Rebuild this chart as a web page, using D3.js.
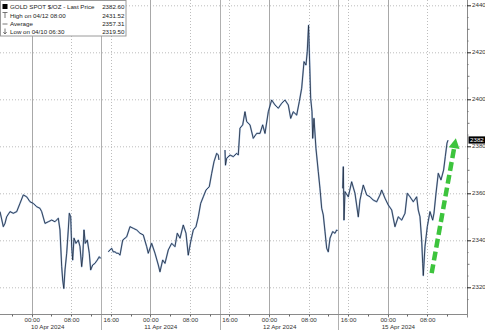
<!DOCTYPE html>
<html><head><meta charset="utf-8">
<script src="https://cdn.jsdelivr.net/npm/d3@7"></script>
<style>html,body{margin:0;padding:0;background:#fff;}svg{display:block;font-family:"Liberation Sans",Arial,sans-serif;}</style>
</head><body>
<div id="chart"></div>
<script>
// time in trading hours since 10 Apr 2024 00:00 (weekend collapsed), price in $/oz; null = session gap
const times = [-6.41,-5.74,-5.40,-5.06,-4.39,-3.72,-3.03,-2.37,-1.70,-1.01,-0.34,0.32,1.01,1.68,2.02,2.69,3.36,4.05,4.71,5.38,5.72,6.07,6.27,6.5,6.74,7.08,7.40,7.61,7.89,8.09,8.29,8.56,8.96,9.43,9.77,10.11,10.32,10.58,10.84,11.25,11.65,11.93,12.34,12.80,13.27,13.67,13.96,14.5,
15.49,15.84,16.18,16.50,16.85,17.19,17.52,17.86,18.41,19.22,19.88,20.55,21.24,21.91,22.57,23.26,23.58,24.27,24.94,25.61,25.95,26.50,26.96,27.63,28.32,28.98,29.45,30.00,30.66,31.21,31.67,32.16,32.69,33.23,33.70,34.18,34.71,35.26,35.92,36.41,36.87,37.42,37.74,37.88,38.5,
39.10,39.2,39.44,40.11,40.78,41.46,41.79,42.13,42.68,43.14,43.49,44.16,44.82,45.51,46.18,46.72,47.19,47.86,48.54,49.21,49.88,50.57,51.23,51.90,52.39,52.91,53.60,54.13,54.61,55.08,55.48,55.74,56.0,56.14,56.43,56.70,56.84,57.10,57.50,57.97,58.31,58.66,58.98,59.33,59.67,59.99,60.34,60.88,61.35,61.69,61.85,62.4,
62.90,63.03,63.17,63.37,64.04,64.72,65.39,66.06,66.40,67.07,67.76,68.43,69.09,69.78,70.45,70.79,71.46,72.13,72.82,73.48,74.15,74.84,75.51,75.97,76.52,77.18,77.87,78.19,78.54,78.88,79.09,79.21,79.55,80.02,80.56,81.11,81.37,81.78,82.24,82.79,83.32,83.66,84.00,84.21];
const prices = [2352.2,2345.8,2347.2,2350,2352.2,2351.5,2352.2,2355.7,2359.3,2358.5,2356.4,2355.7,2354.3,2353.6,2352.2,2347.2,2347.9,2348.6,2347.9,2349.4,2344.4,2328.8,2323.1,2319.5,2327.4,2334.5,2344.4,2351.5,2350,2337.3,2331.6,2340.9,2338.7,2340.1,2337.3,2328.8,2333,2344.4,2338.7,2340.1,2334.5,2327.4,2329.5,2330.2,2331.6,2333,2332.3,null,
2335.1,2335.9,2336.6,2335.1,2335.1,2334.5,2334.5,2333.7,2340.1,2341.5,2345.8,2345.1,2344.4,2343,2342.3,2337.3,2334.5,2338.7,2334.5,2329.5,2326.6,2331.6,2330.2,2335.9,2338.7,2337.3,2343,2340.9,2346.5,2343,2333.7,2339.4,2344.4,2345.8,2350,2355.7,2358.5,2361.4,2362.8,2368.5,2373.4,2377,2376.3,2374.2,null,
2378.4,2372,2374.9,2376.3,2375.6,2377,2376.3,2387.7,2389.1,2394.7,2390.5,2389.1,2383.4,2385.5,2385.5,2389.1,2385.5,2394.7,2399.7,2397.6,2396.2,2398.3,2399.7,2397.6,2391.9,2394.7,2393.3,2399,2404.7,2416,2414.6,2420.3,2431.5,2421.7,2400.4,2394.7,2383.4,2391.9,2379.1,2369.2,2362.1,2353.6,2350.8,2343.7,2336.6,2335.1,2340.9,2343.7,2343,2344.4,2344,null,
2362.1,2371.3,2348.6,2360.7,2358.5,2364.9,2360,2350,2357.1,2363.5,2359.3,2358.5,2357.1,2356.4,2359.3,2361.4,2357.9,2355,2352.9,2345.8,2350,2348.6,2351.5,2360,2358.5,2356.4,2358.5,2352.9,2350,2340.1,2330.2,2325,2337.3,2345.8,2352.2,2348.6,2351.5,2360,2368.5,2365.7,2369.9,2375.6,2381.3,2382.6];

const yTicks = [2320,2340,2360,2380,2400,2420,2440];
const dayStarts = [0,24,48,72];
const dayLabels = ["10 Apr 2024","11 Apr 2024","12 Apr 2024","15 Apr 2024"];
const sessionBreaks = [14,38,62];
const hourTicks = [0,8,16,24,32,40,48,56,64,72,80];
const hourLabels = ["00:00","08:00","16:00","00:00","08:00","16:00","00:00","08:00","16:00","00:00","08:00"];
const legendNames = ["GOLD SPOT $/OZ - Last Price","High on 04/12 08:00","Average","Low on 04/10 06:30"];
const legendValues = ["2382.60","2431.52","2357.31","2319.50"];
const lastPrice = 2382.60;
const arrowFrom = [80.9, 2326];
const arrowTo = [85.8, 2383.4];

const W = 485, H = 330;
const plotRight = 467, plotBottom = 314.5;
const x = d3.scaleLinear().domain([-6.41, 88.05]).range([0, plotRight]);
const y = d3.scaleLinear().domain([2320, 2440]).range([287.3, 5.3]);

const svg = d3.select("#chart").append("svg").attr("width", W).attr("height", H);

// horizontal dotted grid
svg.append("g").selectAll("line").data(yTicks).join("line")
  .attr("x1", 0).attr("x2", plotRight).attr("y1", d => y(d) + 0.5).attr("y2", d => y(d) + 0.5)
  .attr("stroke", "#bdbdbd").attr("stroke-width", 1).attr("stroke-dasharray", "1,2");

// vertical dotted grid at 08:00 / 16:00
svg.append("g").selectAll("line").data(hourTicks.filter(h => h % 24 !== 0)).join("line")
  .attr("x1", d => Math.round(x(d)) + 0.5).attr("x2", d => Math.round(x(d)) + 0.5)
  .attr("y1", 0).attr("y2", plotBottom)
  .attr("stroke", "#bdbdbd").attr("stroke-width", 1).attr("stroke-dasharray", "1,2");

// solid day lines
svg.append("g").selectAll("line").data(dayStarts).join("line")
  .attr("x1", d => Math.round(x(d)) + 0.5).attr("x2", d => Math.round(x(d)) + 0.5)
  .attr("y1", 0).attr("y2", plotBottom + 3)
  .attr("stroke", "#a8a8a8").attr("stroke-width", 1);
// session break lines (extend through label area)
svg.append("g").selectAll("line").data(sessionBreaks).join("line")
  .attr("x1", d => Math.round(x(d)) + 0.5).attr("x2", d => Math.round(x(d)) + 0.5)
  .attr("y1", 0).attr("y2", H)
  .attr("stroke", "#b0b0b0").attr("stroke-width", 1);

// axes lines
svg.append("line").attr("x1", 0).attr("x2", plotRight + 0.5).attr("y1", plotBottom).attr("y2", plotBottom)
  .attr("stroke", "#8a8a8a").attr("stroke-width", 1);
svg.append("line").attr("x1", plotRight + 0.5).attr("x2", plotRight + 0.5).attr("y1", 0).attr("y2", plotBottom + 3)
  .attr("stroke", "#8a8a8a").attr("stroke-width", 1);

// bottom minor ticks every 4h
const minorX = d3.range(-4, 88, 4);
svg.append("g").selectAll("line").data(minorX).join("line")
  .attr("x1", d => Math.round(x(d)) + 0.5).attr("x2", d => Math.round(x(d)) + 0.5)
  .attr("y1", plotBottom).attr("y2", plotBottom + 2)
  .attr("stroke", "#666").attr("stroke-width", 1);

// right axis ticks
const yMinor = d3.range(2315, 2445, 5);
svg.append("g").selectAll("line").data(yMinor).join("line")
  .attr("x1", plotRight).attr("x2", d => plotRight + (d % 20 === 0 ? 4 : (d % 10 === 0 ? 2.5 : 1.5)))
  .attr("y1", d => y(d) + 0.5).attr("y2", d => y(d) + 0.5)
  .attr("stroke", d => d % 20 === 0 ? "#222" : "#777").attr("stroke-width", 1);

svg.append("g").selectAll("text").data(yTicks).join("text")
  .attr("x", 472).attr("y", d => y(d)).attr("dy", "0.35em")
  .attr("font-size", 6.2).attr("fill", "#333").text(d => d);

// bottom labels
svg.append("g").selectAll("text").data(hourTicks).join("text")
  .attr("x", d => x(d) + 0.5).attr("y", 321.5).attr("text-anchor", "middle")
  .attr("font-size", 6.2).attr("fill", "#333").text((d, i) => hourLabels[i]);
svg.append("g").selectAll("text").data(dayStarts).join("text")
  .attr("x", d => Math.max(x(d) - 6, 31)).attr("y", 329.3).attr("text-anchor", "start")
  .attr("font-size", 6.2).attr("fill", "#333").text((d, i) => dayLabels[i]);

// price line
const pts = times.map((t, i) => [t, prices[i]]);
const line = d3.line().defined(d => d[1] !== null).x(d => x(d[0])).y(d => y(d[1]));
svg.append("path").datum(pts).attr("d", line).attr("fill", "none")
  .attr("stroke", "#6a95cc").attr("stroke-width", 1.7).attr("stroke-opacity", 0.6).attr("stroke-linejoin", "round");
svg.append("path").datum(pts).attr("d", line).attr("fill", "none")
  .attr("stroke", "#1b2638").attr("stroke-width", 0.8).attr("stroke-linejoin", "miter");

// green dashed arrow
const ax1 = x(arrowFrom[0]), ay1 = y(arrowFrom[1]), ax2 = x(arrowTo[0]), ay2 = y(arrowTo[1]);
const ang = Math.atan2(ay2 - ay1, ax2 - ax1);
const headLen = 10, headHalf = 5.5;
const bx = ax2 - headLen * Math.cos(ang), by = ay2 - headLen * Math.sin(ang);
svg.append("line").attr("x1", ax1).attr("y1", ay1).attr("x2", bx).attr("y2", by)
  .attr("stroke", "#3dc43d").attr("stroke-width", 4.5).attr("stroke-dasharray", "9,4");
svg.append("path")
  .attr("d", `M${ax2},${ay2} L${bx - headHalf * Math.sin(ang)},${by + headHalf * Math.cos(ang)} L${bx + headHalf * Math.sin(ang)},${by - headHalf * Math.cos(ang)} Z`)
  .attr("fill", "#3dc43d");

// last price tag
svg.append("rect").attr("x", 468.5).attr("y", y(lastPrice) - 3.8).attr("width", 16.5).attr("height", 7.2).attr("fill", "#000");
svg.append("text").attr("x", 470).attr("y", y(lastPrice)).attr("dy", "0.35em")
  .attr("font-size", 6.2).attr("fill", "#fff").text(Math.floor(lastPrice));

// legend
const lg = svg.append("g");
lg.append("rect").attr("x", 0.5).attr("y", 0.5).attr("width", 125.5).attr("height", 35.5)
  .attr("fill", "#fff").attr("stroke", "#9a9a9a").attr("stroke-width", 1);
const rowY = [9.3, 17.8, 26.1, 34.0];
lg.selectAll("text.n").data(legendNames).join("text").attr("class", "n")
  .attr("x", 10).attr("y", (d, i) => rowY[i]).attr("font-size", 6.2).attr("fill", "#222").text(d => d);
lg.selectAll("text.v").data(legendValues).join("text").attr("class", "v")
  .attr("x", 124.5).attr("y", (d, i) => rowY[i]).attr("text-anchor", "end").attr("font-size", 6.2).attr("fill", "#222").text(d => d);
// icons
lg.append("rect").attr("x", 2.5).attr("y", 4).attr("width", 5).attr("height", 5).attr("fill", "#000");
lg.append("path").attr("d", "M2.5,12.5 H7.5 M5,12.5 V18").attr("stroke", "#555").attr("fill", "none").attr("stroke-width", 0.8);
lg.append("path").attr("d", "M2.5,24 H7.5").attr("stroke", "#555").attr("fill", "none").attr("stroke-width", 0.8);
lg.append("path").attr("d", "M5,28.5 V34 M3.3,32 L5,34 L6.7,32").attr("stroke", "#555").attr("fill", "none").attr("stroke-width", 0.8);
</script>
</body></html>
